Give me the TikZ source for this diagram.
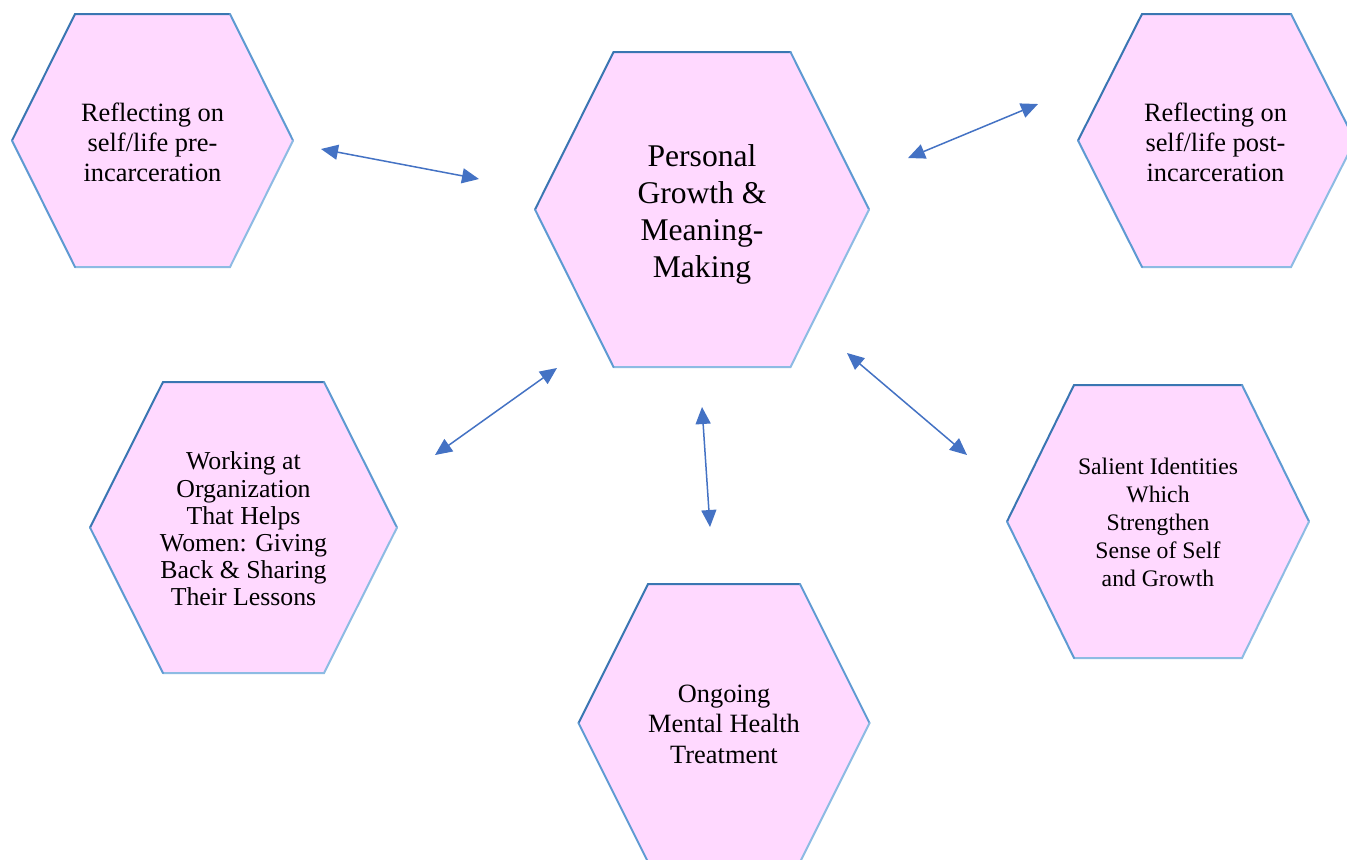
\documentclass[tikz,border=0pt]{standalone}
\usepackage{fontspec}
\setmainfont{Liberation Serif}
\usetikzlibrary{arrows.meta}
\definecolor{hexfill}{HTML}{FFD9FF}
\definecolor{edgedark}{HTML}{3A76B2}
\definecolor{edgemid}{HTML}{5E9AD2}
\definecolor{edgelight}{HTML}{8DBBE3}
\definecolor{arrowblue}{HTML}{4472C4}
\tikzset{
  hexedge/.style={line width=1pt, line cap=round},
  link/.style={arrowblue, line width=0.75pt, {Triangle[length=8.5pt,width=7.5pt]}-{Triangle[length=8.5pt,width=7.5pt]}},
  hextext/.style={align=center, text=black, inner sep=0pt}
}
% #1 cx, #2 cy, #3 half width, #4 half height, #5 half top edge
\newcommand{\myhex}[5]{%
  \fill[hexfill] ({#1-#3},{#2}) -- ({#1-#5},{#2-#4}) -- ({#1+#5},{#2-#4}) -- ({#1+#3},{#2}) -- ({#1+#5},{#2+#4}) -- ({#1-#5},{#2+#4}) -- cycle;
  \draw[hexedge, edgedark] ({#1-#3},{#2}) -- ({#1-#5},{#2-#4}) -- ({#1+#5},{#2-#4});
  \draw[hexedge, edgemid] ({#1+#5},{#2-#4}) -- ({#1+#3},{#2});
  \draw[hexedge, edgelight] ({#1+#3},{#2}) -- ({#1+#5},{#2+#4}) -- ({#1-#5},{#2+#4});
  \draw[hexedge, edgemid] ({#1-#5},{#2+#4}) -- ({#1-#3},{#2});
}
\begin{document}
\begin{tikzpicture}[x=0.5pt, y=-0.5pt]
\useasboundingbox (0,0) rectangle (1347,859);
\clip (0,0) rectangle (1347,859);
\fill[white] (0,0) rectangle (1347,859);

\myhex{152.5}{140.5}{140.5}{126.5}{77.5}
\myhex{702}{209.5}{167}{157.5}{88.5}
\myhex{1216.5}{140.5}{138.5}{126.5}{74.5}
\myhex{243.5}{527.5}{153.5}{145.5}{80.5}
\myhex{1158}{521.5}{151}{136.5}{84}
\myhex{724}{723}{145.5}{139}{76}

\node[hextext, font=\fontsize{13.2}{15}\selectfont] (tl) at (152.5,142) {Reflecting on\\self/life pre-\\incarceration};
\node[hextext, font=\fontsize{15.8}{18.5}\selectfont] (ctr) at (702,214) {Personal\\Growth \&\\Meaning-\\Making};
\node[hextext, font=\fontsize{13.2}{15}\selectfont] (tr) at (1215.5,142) {Reflecting on\\self/life post-\\incarceration};
\node[hextext, font=\fontsize{12.9}{13.6}\selectfont] (bl) at (243.5,529) {Working at\\Organization\\That Helps\\Women: Giving\\Back \& Sharing\\Their Lessons};
\node[hextext, font=\fontsize{11.85}{14}\selectfont] (br) at (1158,522) {Salient Identities\\Which\\Strengthen\\Sense of Self\\and Growth};
\node[hextext, font=\fontsize{13.2}{15.25}\selectfont] (bc) at (724,724) {Ongoing\\Mental Health\\Treatment};

\coordinate (a1s) at (321,149);
\coordinate (a1e) at (479,179);
\coordinate (a2s) at (908,158);
\coordinate (a2e) at (1038,104);
\coordinate (a3s) at (435,455);
\coordinate (a3e) at (557,368);
\coordinate (a4s) at (702,407);
\coordinate (a4e) at (710,527);
\coordinate (a5s) at (847,353);
\coordinate (a5e) at (967,455);

\draw[link] (a1s) -- (a1e);
\draw[link] (a2s) -- (a2e);
\draw[link] (a3s) -- (a3e);
\draw[link] (a4s) -- (a4e);
\draw[link] (a5s) -- (a5e);
\end{tikzpicture}
\end{document}
